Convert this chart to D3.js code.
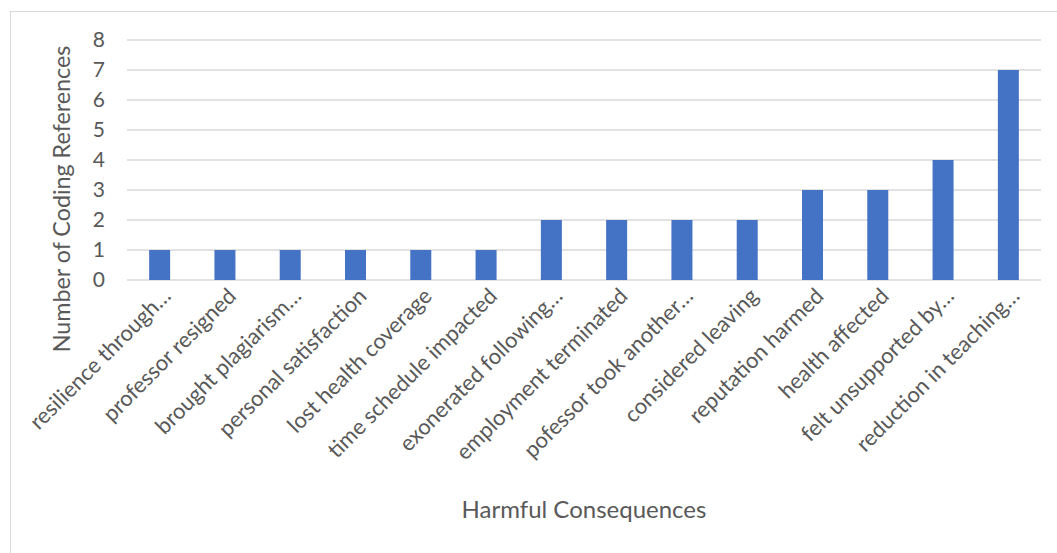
<!DOCTYPE html>
<html>
<head>
<meta charset="utf-8">
<script src="https://cdn.jsdelivr.net/npm/d3@7"></script>
<style>
  html, body { margin: 0; padding: 0; background: #fff; }
  svg { display: block; font-family: Lato, "Open Sans", sans-serif; }
</style>
</head>
<body>
<svg id="chart" width="1057" height="553"></svg>
<script>
const categories = [
  "resilience through…",
  "professor resigned",
  "brought plagiarism…",
  "personal satisfaction",
  "lost health coverage",
  "time schedule impacted",
  "exonerated following…",
  "employment terminated",
  "pofessor took another…",
  "considered leaving",
  "reputation harmed",
  "health affected",
  "felt unsupported by…",
  "reduction in teaching…"
];
const values = [1, 1, 1, 1, 1, 1, 2, 2, 2, 2, 3, 3, 4, 7];
const yTicks = [0, 1, 2, 3, 4, 5, 6, 7, 8];
const yTitle = "Number of Coding References";
const xTitle = "Harmful Consequences";

const svg = d3.select("#chart");
const plot = { left: 127, right: 1041, top: 40, bottom: 280 };
const textColor = "#595959";

// chart frame
svg.append("rect")
  .attr("x", 10.5).attr("y", 11.5)
  .attr("width", 1100).attr("height", 600)
  .attr("fill", "none").attr("stroke", "#d9d9d9").attr("stroke-width", 1);

const x = d3.scaleBand().domain(categories).range([plot.left, plot.right]).paddingInner(0).paddingOuter(0);
const y = d3.scaleLinear().domain([0, 8]).range([plot.bottom, plot.top]);

// gridlines
svg.append("g")
  .selectAll("line")
  .data(yTicks)
  .join("line")
  .attr("x1", plot.left).attr("x2", plot.right)
  .attr("y1", d => y(d)).attr("y2", d => y(d))
  .attr("stroke", "#d9d9d9").attr("stroke-width", 1.5);

// y axis labels
const yAxis = d3.axisLeft(y).tickValues(yTicks).tickSize(0).tickPadding(0).tickFormat(d3.format("d"));
const yg = svg.append("g").attr("transform", `translate(${105},0)`).call(yAxis);
yg.select(".domain").remove();
yg.selectAll("text").attr("fill", textColor).style("font-size", "21px").style("font-family", "Lato, sans-serif");

// bars
const barW = 21;
svg.append("g")
  .selectAll("rect")
  .data(values)
  .join("rect")
  .attr("x", (d, i) => x(categories[i]) + x.bandwidth() / 2 - barW / 2)
  .attr("width", barW)
  .attr("y", d => y(d))
  .attr("height", d => y(0) - y(d))
  .attr("fill", "#4472C4");

// category labels, rotated
const xg = svg.append("g");
xg.selectAll("text")
  .data(categories)
  .join("text")
  .attr("transform", d => `translate(${x(d) + x.bandwidth() / 2 + 7},${plot.bottom + 12}) rotate(-45)`)
  .attr("text-anchor", "end")
  .attr("dy", "0.35em")
  .attr("fill", textColor)
  .style("font-size", "22px")
  .text(d => d);

// axis titles
svg.append("text")
  .attr("transform", `translate(70,${(45 + 353) / 2}) rotate(-90)`)
  .attr("text-anchor", "middle")
  .attr("fill", textColor)
  .style("font-size", "23.3px")
  .text(yTitle);

svg.append("text")
  .attr("x", (plot.left + plot.right) / 2)
  .attr("y", 518)
  .attr("text-anchor", "middle")
  .attr("fill", textColor)
  .style("font-size", "24px")
  .text(xTitle);
</script>
</body>
</html>
